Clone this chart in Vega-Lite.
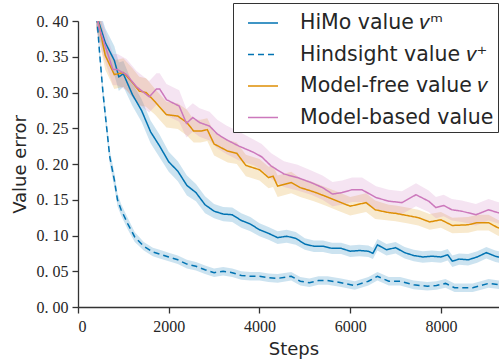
{
  "$schema": "https://vega.github.io/schema/vega-lite/v6.json",
  "width": 431,
  "height": 286,
  "autosize": "none",
  "padding": {"left": 78, "top": 21, "right": 0, "bottom": 55},
  "background": "white",
  "config": {
    "view": {"stroke": null},
    "axis": {
      "grid": false,
      "domainColor": "#333333",
      "domainWidth": 1.3,
      "tickColor": "#333333",
      "tickWidth": 1.3,
      "tickSize": 6,
      "labelFont": "Liberation Serif",
      "labelFontSize": 16,
      "labelColor": "#262626",
      "labelOverlap": false,
      "titleFont": "DejaVu Sans",
      "titleFontSize": 18,
      "titleFontWeight": "normal",
      "titleColor": "#262626"
    },
    "legend": {
      "title": null, "orient": "none", "legendX": 155, "legendY": -18,
      "labelFont": "DejaVu Sans", "labelFontSize": 20.5, "labelColor": "#262626", "labelLimit": 400,
      "symbolType": "stroke", "symbolSize": 900, "symbolStrokeWidth": 1.5, "symbolOpacity": 1,
      "symbolOffset": 10, "labelOffset": 21, "padding": 4, "rowPadding": 4.5,
      "strokeColor": "#333333", "fillColor": "white", "cornerRadius": 0
    }
  },
  "data": {
    "values": [
      {"s":"a","x":400,"m":0.41,"lo":0.39,"hi":0.43},
      {"s":"a","x":600,"m":0.37,"lo":0.35,"hi":0.39},
      {"s":"a","x":800,"m":0.345,"lo":0.325,"hi":0.365},
      {"s":"a","x":900,"m":0.322,"lo":0.302,"hi":0.342},
      {"s":"a","x":1000,"m":0.326,"lo":0.308,"hi":0.344},
      {"s":"a","x":1200,"m":0.297,"lo":0.281,"hi":0.313},
      {"s":"a","x":1400,"m":0.275,"lo":0.259,"hi":0.291},
      {"s":"a","x":1600,"m":0.245,"lo":0.229,"hi":0.261},
      {"s":"a","x":1800,"m":0.225,"lo":0.209,"hi":0.241},
      {"s":"a","x":2000,"m":0.203,"lo":0.189,"hi":0.217},
      {"s":"a","x":2200,"m":0.19,"lo":0.176,"hi":0.204},
      {"s":"a","x":2400,"m":0.17,"lo":0.156,"hi":0.184},
      {"s":"a","x":2600,"m":0.16,"lo":0.148,"hi":0.172},
      {"s":"a","x":2800,"m":0.143,"lo":0.131,"hi":0.155},
      {"s":"a","x":3000,"m":0.134,"lo":0.124,"hi":0.144},
      {"s":"a","x":3200,"m":0.13,"lo":0.12,"hi":0.14},
      {"s":"a","x":3400,"m":0.129,"lo":0.119,"hi":0.139},
      {"s":"a","x":3600,"m":0.121,"lo":0.111,"hi":0.131},
      {"s":"a","x":3800,"m":0.116,"lo":0.106,"hi":0.126},
      {"s":"a","x":4000,"m":0.108,"lo":0.099,"hi":0.117},
      {"s":"a","x":4200,"m":0.103,"lo":0.094,"hi":0.112},
      {"s":"a","x":4400,"m":0.097,"lo":0.088,"hi":0.106},
      {"s":"a","x":4600,"m":0.099,"lo":0.09,"hi":0.108},
      {"s":"a","x":4800,"m":0.096,"lo":0.087,"hi":0.105},
      {"s":"a","x":5000,"m":0.088,"lo":0.08,"hi":0.096},
      {"s":"a","x":5200,"m":0.085,"lo":0.077,"hi":0.093},
      {"s":"a","x":5400,"m":0.085,"lo":0.077,"hi":0.093},
      {"s":"a","x":5600,"m":0.082,"lo":0.074,"hi":0.09},
      {"s":"a","x":5800,"m":0.082,"lo":0.074,"hi":0.09},
      {"s":"a","x":6000,"m":0.078,"lo":0.07,"hi":0.086},
      {"s":"a","x":6200,"m":0.079,"lo":0.071,"hi":0.087},
      {"s":"a","x":6400,"m":0.078,"lo":0.07,"hi":0.086},
      {"s":"a","x":6500,"m":0.075,"lo":0.067,"hi":0.083},
      {"s":"a","x":6600,"m":0.087,"lo":0.079,"hi":0.095},
      {"s":"a","x":6800,"m":0.08,"lo":0.072,"hi":0.088},
      {"s":"a","x":7000,"m":0.083,"lo":0.075,"hi":0.091},
      {"s":"a","x":7200,"m":0.076,"lo":0.068,"hi":0.084},
      {"s":"a","x":7400,"m":0.072,"lo":0.064,"hi":0.08},
      {"s":"a","x":7600,"m":0.07,"lo":0.062,"hi":0.078},
      {"s":"a","x":7800,"m":0.071,"lo":0.063,"hi":0.079},
      {"s":"a","x":8000,"m":0.07,"lo":0.062,"hi":0.078},
      {"s":"a","x":8150,"m":0.073,"lo":0.065,"hi":0.081},
      {"s":"a","x":8250,"m":0.064,"lo":0.056,"hi":0.072},
      {"s":"a","x":8400,"m":0.067,"lo":0.059,"hi":0.075},
      {"s":"a","x":8600,"m":0.066,"lo":0.058,"hi":0.074},
      {"s":"a","x":8800,"m":0.07,"lo":0.062,"hi":0.078},
      {"s":"a","x":9000,"m":0.076,"lo":0.068,"hi":0.084},
      {"s":"a","x":9200,"m":0.071,"lo":0.063,"hi":0.079},
      {"s":"a","x":9400,"m":0.068,"lo":0.06,"hi":0.076},
      {"s":"a","x":9500,"m":0.069,"lo":0.061,"hi":0.077},

      {"s":"b","x":400,"m":0.42,"lo":0.41,"hi":0.43},
      {"s":"b","x":470,"m":0.36,"lo":0.35,"hi":0.37},
      {"s":"b","x":550,"m":0.30,"lo":0.29,"hi":0.31},
      {"s":"b","x":700,"m":0.21,"lo":0.20,"hi":0.22},
      {"s":"b","x":800,"m":0.178,"lo":0.168,"hi":0.188},
      {"s":"b","x":870,"m":0.15,"lo":0.141,"hi":0.159},
      {"s":"b","x":950,"m":0.136,"lo":0.128,"hi":0.144},
      {"s":"b","x":1100,"m":0.116,"lo":0.108,"hi":0.124},
      {"s":"b","x":1250,"m":0.098,"lo":0.091,"hi":0.105},
      {"s":"b","x":1450,"m":0.085,"lo":0.079,"hi":0.091},
      {"s":"b","x":1650,"m":0.077,"lo":0.071,"hi":0.083},
      {"s":"b","x":1800,"m":0.074,"lo":0.068,"hi":0.08},
      {"s":"b","x":2000,"m":0.07,"lo":0.064,"hi":0.076},
      {"s":"b","x":2200,"m":0.066,"lo":0.06,"hi":0.072},
      {"s":"b","x":2400,"m":0.06,"lo":0.054,"hi":0.066},
      {"s":"b","x":2600,"m":0.057,"lo":0.051,"hi":0.063},
      {"s":"b","x":2800,"m":0.052,"lo":0.046,"hi":0.058},
      {"s":"b","x":3000,"m":0.048,"lo":0.042,"hi":0.054},
      {"s":"b","x":3200,"m":0.05,"lo":0.044,"hi":0.056},
      {"s":"b","x":3400,"m":0.048,"lo":0.042,"hi":0.054},
      {"s":"b","x":3600,"m":0.044,"lo":0.038,"hi":0.05},
      {"s":"b","x":3800,"m":0.043,"lo":0.037,"hi":0.049},
      {"s":"b","x":4000,"m":0.043,"lo":0.037,"hi":0.049},
      {"s":"b","x":4200,"m":0.041,"lo":0.035,"hi":0.047},
      {"s":"b","x":4400,"m":0.04,"lo":0.034,"hi":0.046},
      {"s":"b","x":4700,"m":0.043,"lo":0.037,"hi":0.049},
      {"s":"b","x":4900,"m":0.036,"lo":0.030,"hi":0.042},
      {"s":"b","x":5100,"m":0.034,"lo":0.028,"hi":0.04},
      {"s":"b","x":5300,"m":0.037,"lo":0.031,"hi":0.043},
      {"s":"b","x":5500,"m":0.037,"lo":0.031,"hi":0.043},
      {"s":"b","x":5800,"m":0.034,"lo":0.028,"hi":0.04},
      {"s":"b","x":6100,"m":0.03,"lo":0.024,"hi":0.036},
      {"s":"b","x":6400,"m":0.036,"lo":0.03,"hi":0.042},
      {"s":"b","x":6600,"m":0.043,"lo":0.037,"hi":0.049},
      {"s":"b","x":6850,"m":0.036,"lo":0.03,"hi":0.042},
      {"s":"b","x":7100,"m":0.036,"lo":0.03,"hi":0.042},
      {"s":"b","x":7400,"m":0.031,"lo":0.025,"hi":0.037},
      {"s":"b","x":7700,"m":0.029,"lo":0.023,"hi":0.035},
      {"s":"b","x":7900,"m":0.03,"lo":0.024,"hi":0.036},
      {"s":"b","x":8100,"m":0.033,"lo":0.027,"hi":0.039},
      {"s":"b","x":8300,"m":0.027,"lo":0.021,"hi":0.033},
      {"s":"b","x":8700,"m":0.027,"lo":0.021,"hi":0.033},
      {"s":"b","x":9050,"m":0.033,"lo":0.027,"hi":0.039},
      {"s":"b","x":9300,"m":0.031,"lo":0.025,"hi":0.037},
      {"s":"b","x":9500,"m":0.03,"lo":0.024,"hi":0.036},

      {"s":"c","x":400,"m":0.41,"lo":0.39,"hi":0.43},
      {"s":"c","x":470,"m":0.392,"lo":0.372,"hi":0.412},
      {"s":"c","x":600,"m":0.352,"lo":0.332,"hi":0.372},
      {"s":"c","x":800,"m":0.325,"lo":0.305,"hi":0.345},
      {"s":"c","x":1000,"m":0.328,"lo":0.308,"hi":0.348},
      {"s":"c","x":1200,"m":0.314,"lo":0.294,"hi":0.334},
      {"s":"c","x":1350,"m":0.302,"lo":0.282,"hi":0.322},
      {"s":"c","x":1500,"m":0.30,"lo":0.28,"hi":0.32},
      {"s":"c","x":1700,"m":0.287,"lo":0.269,"hi":0.305},
      {"s":"c","x":1950,"m":0.269,"lo":0.251,"hi":0.287},
      {"s":"c","x":2200,"m":0.267,"lo":0.249,"hi":0.285},
      {"s":"c","x":2400,"m":0.258,"lo":0.240,"hi":0.276},
      {"s":"c","x":2550,"m":0.246,"lo":0.230,"hi":0.262},
      {"s":"c","x":2700,"m":0.246,"lo":0.230,"hi":0.262},
      {"s":"c","x":2850,"m":0.248,"lo":0.232,"hi":0.264},
      {"s":"c","x":3000,"m":0.228,"lo":0.212,"hi":0.244},
      {"s":"c","x":3300,"m":0.218,"lo":0.202,"hi":0.234},
      {"s":"c","x":3500,"m":0.215,"lo":0.2,"hi":0.23},
      {"s":"c","x":3700,"m":0.198,"lo":0.183,"hi":0.213},
      {"s":"c","x":4000,"m":0.192,"lo":0.177,"hi":0.207},
      {"s":"c","x":4200,"m":0.181,"lo":0.166,"hi":0.196},
      {"s":"c","x":4300,"m":0.183,"lo":0.168,"hi":0.198},
      {"s":"c","x":4400,"m":0.169,"lo":0.154,"hi":0.184},
      {"s":"c","x":4700,"m":0.174,"lo":0.159,"hi":0.189},
      {"s":"c","x":4900,"m":0.167,"lo":0.154,"hi":0.18},
      {"s":"c","x":5200,"m":0.161,"lo":0.148,"hi":0.174},
      {"s":"c","x":5450,"m":0.155,"lo":0.142,"hi":0.168},
      {"s":"c","x":5800,"m":0.146,"lo":0.133,"hi":0.159},
      {"s":"c","x":6000,"m":0.141,"lo":0.128,"hi":0.154},
      {"s":"c","x":6350,"m":0.146,"lo":0.133,"hi":0.159},
      {"s":"c","x":6550,"m":0.136,"lo":0.123,"hi":0.149},
      {"s":"c","x":6850,"m":0.132,"lo":0.121,"hi":0.143},
      {"s":"c","x":7000,"m":0.131,"lo":0.12,"hi":0.142},
      {"s":"c","x":7250,"m":0.128,"lo":0.117,"hi":0.139},
      {"s":"c","x":7500,"m":0.125,"lo":0.114,"hi":0.136},
      {"s":"c","x":7750,"m":0.119,"lo":0.108,"hi":0.13},
      {"s":"c","x":8000,"m":0.122,"lo":0.111,"hi":0.133},
      {"s":"c","x":8250,"m":0.114,"lo":0.103,"hi":0.125},
      {"s":"c","x":8600,"m":0.115,"lo":0.104,"hi":0.126},
      {"s":"c","x":8800,"m":0.118,"lo":0.107,"hi":0.129},
      {"s":"c","x":9050,"m":0.118,"lo":0.107,"hi":0.129},
      {"s":"c","x":9250,"m":0.111,"lo":0.1,"hi":0.122},
      {"s":"c","x":9400,"m":0.108,"lo":0.097,"hi":0.119},
      {"s":"c","x":9500,"m":0.109,"lo":0.098,"hi":0.12},

      {"s":"d","x":400,"m":0.41,"lo":0.39,"hi":0.43},
      {"s":"d","x":470,"m":0.39,"lo":0.368,"hi":0.412},
      {"s":"d","x":770,"m":0.332,"lo":0.31,"hi":0.354},
      {"s":"d","x":870,"m":0.332,"lo":0.31,"hi":0.354},
      {"s":"d","x":1070,"m":0.325,"lo":0.303,"hi":0.347},
      {"s":"d","x":1290,"m":0.308,"lo":0.286,"hi":0.33},
      {"s":"d","x":1570,"m":0.294,"lo":0.272,"hi":0.316},
      {"s":"d","x":1730,"m":0.305,"lo":0.283,"hi":0.327},
      {"s":"d","x":1800,"m":0.305,"lo":0.283,"hi":0.327},
      {"s":"d","x":1950,"m":0.29,"lo":0.268,"hi":0.312},
      {"s":"d","x":2230,"m":0.281,"lo":0.259,"hi":0.303},
      {"s":"d","x":2390,"m":0.257,"lo":0.237,"hi":0.277},
      {"s":"d","x":2530,"m":0.265,"lo":0.245,"hi":0.285},
      {"s":"d","x":2680,"m":0.258,"lo":0.238,"hi":0.278},
      {"s":"d","x":2900,"m":0.253,"lo":0.233,"hi":0.273},
      {"s":"d","x":3070,"m":0.242,"lo":0.222,"hi":0.262},
      {"s":"d","x":3270,"m":0.234,"lo":0.214,"hi":0.254},
      {"s":"d","x":3550,"m":0.225,"lo":0.205,"hi":0.245},
      {"s":"d","x":3880,"m":0.216,"lo":0.198,"hi":0.234},
      {"s":"d","x":4050,"m":0.21,"lo":0.192,"hi":0.228},
      {"s":"d","x":4260,"m":0.197,"lo":0.179,"hi":0.215},
      {"s":"d","x":4540,"m":0.186,"lo":0.168,"hi":0.204},
      {"s":"d","x":4840,"m":0.181,"lo":0.163,"hi":0.199},
      {"s":"d","x":5140,"m":0.174,"lo":0.157,"hi":0.191},
      {"s":"d","x":5390,"m":0.167,"lo":0.15,"hi":0.184},
      {"s":"d","x":5610,"m":0.158,"lo":0.141,"hi":0.175},
      {"s":"d","x":5820,"m":0.16,"lo":0.143,"hi":0.177},
      {"s":"d","x":6040,"m":0.164,"lo":0.147,"hi":0.181},
      {"s":"d","x":6260,"m":0.164,"lo":0.147,"hi":0.181},
      {"s":"d","x":6570,"m":0.153,"lo":0.137,"hi":0.169},
      {"s":"d","x":6850,"m":0.148,"lo":0.132,"hi":0.164},
      {"s":"d","x":7140,"m":0.146,"lo":0.13,"hi":0.162},
      {"s":"d","x":7450,"m":0.157,"lo":0.141,"hi":0.173},
      {"s":"d","x":7730,"m":0.148,"lo":0.133,"hi":0.163},
      {"s":"d","x":7890,"m":0.139,"lo":0.124,"hi":0.154},
      {"s":"d","x":8060,"m":0.142,"lo":0.127,"hi":0.157},
      {"s":"d","x":8240,"m":0.136,"lo":0.121,"hi":0.151},
      {"s":"d","x":8460,"m":0.134,"lo":0.119,"hi":0.149},
      {"s":"d","x":8770,"m":0.129,"lo":0.114,"hi":0.144},
      {"s":"d","x":9050,"m":0.136,"lo":0.121,"hi":0.151},
      {"s":"d","x":9250,"m":0.132,"lo":0.117,"hi":0.147},
      {"s":"d","x":9400,"m":0.13,"lo":0.115,"hi":0.145},
      {"s":"d","x":9500,"m":0.131,"lo":0.116,"hi":0.146}
    ]
  },
  "encoding": {
    "x": {
      "field": "x", "type": "quantitative", "title": "Steps",
      "scale": {"domain": [0, 9500], "nice": false},
      "axis": {"values": [0, 2000, 4000, 6000, 8000], "format": "d", "labelPadding": 5, "titlePadding": 6}
    },
    "color": {"field": "s", "type": "nominal",
      "scale": {"domain": ["a","b","c","d"], "range": ["#0173B2","#0173B2","#DE8F05","#CC78BC"]},
      "legend": {
        "labelExpr": "datum.value == 'a' ? 'HiMo value 𝑣ᵐ' : datum.value == 'b' ? 'Hindsight value 𝑣⁺' : datum.value == 'c' ? 'Model-free value 𝑣' : 'Model-based value'"
      }
    }
  },
  "layer": [
    {
      "mark": {"type": "area", "opacity": 0.2, "clip": true},
      "encoding": {
        "y": {
          "field": "lo", "type": "quantitative", "title": "Value error",
          "scale": {"domain": [0, 0.4], "nice": false},
          "axis": {"values": [0, 0.05, 0.1, 0.15, 0.2, 0.25, 0.3, 0.35, 0.4],
            "labelExpr": "replace(format(datum.value, '.2f'), '.', '. ')",
            "labelPadding": 4, "titlePadding": 7}
        },
        "y2": {"field": "hi"}
      }
    },
    {
      "mark": {"type": "line", "strokeWidth": 1.5, "clip": true},
      "encoding": {
        "y": {
          "field": "m", "type": "quantitative", "title": "Value error",
          "scale": {"domain": [0, 0.4], "nice": false},
          "axis": {"values": [0, 0.05, 0.1, 0.15, 0.2, 0.25, 0.3, 0.35, 0.4],
            "labelExpr": "replace(format(datum.value, '.2f'), '.', '. ')",
            "labelPadding": 4, "titlePadding": 7}
        },
        "strokeDash": {"field": "s", "type": "nominal",
          "scale": {"domain": ["a","b","c","d"], "range": [[1,0],[6,4],[1,0],[1,0]]},
          "legend": {
            "labelExpr": "datum.value == 'a' ? 'HiMo value 𝑣ᵐ' : datum.value == 'b' ? 'Hindsight value 𝑣⁺' : datum.value == 'c' ? 'Model-free value 𝑣' : 'Model-based value'"
          }
        }
      }
    }
  ]
}
